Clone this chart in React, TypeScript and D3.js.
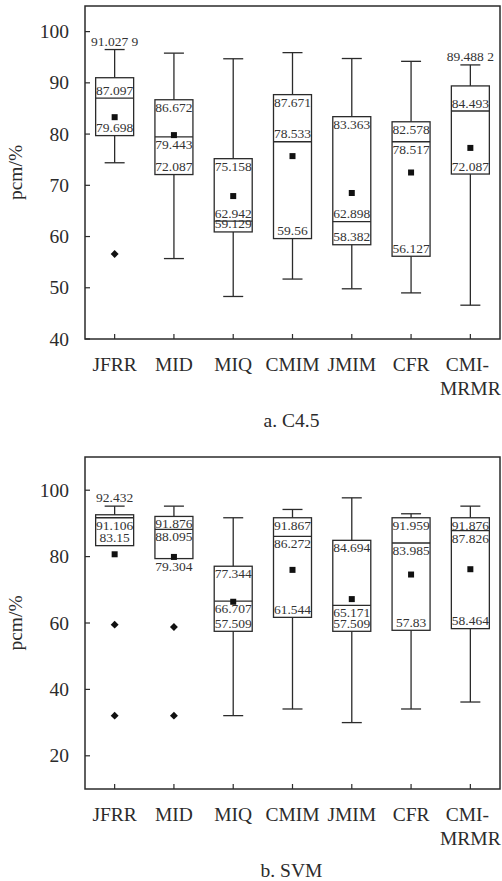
import React, { useEffect, useRef } from 'react';
import * as d3 from 'd3';

const categories = ['JFRR', 'MID', 'MIQ', 'CMIM', 'JMIM', 'CFR', 'CMI-MRMR'];

// a. C4.5
const c45WhiskerHigh = [96.5, 95.8, 94.7, 95.9, 94.75, 94.2, 93.5];
const c45Q3 = [91.0, 86.7, 75.2, 87.7, 83.4, 82.4, 89.4];
const c45Median = [87.0, 79.45, 63.0, 78.5, 62.9, 78.5, 84.5];
const c45Q1 = [79.7, 72.1, 60.9, 59.6, 58.4, 56.15, 72.2];
const c45WhiskerLow = [74.4, 55.7, 48.3, 51.7, 49.8, 49.0, 46.6];
const c45Mean = [83.3, 79.8, 67.9, 75.7, 68.5, 72.5, 77.3];
const c45Outliers = [[56.6], [], [], [], [], [], []];
const c45Q3Labels = ['91.027 9', '86.672', '75.158', '87.671', '83.363', '82.578', '89.488 2'];
const c45MedianLabels = ['87.097', '79.443', '62.942', '78.533', '62.898', '78.517', '84.493'];
const c45Q1Labels = ['79.698', '72.087', '59.129', '59.56', '58.382', '56.127', '72.087'];

// b. SVM
const svmWhiskerHigh = [95.2, 95.2, 91.7, 94.2, 97.7, 92.9, 95.2];
const svmQ3 = [92.6, 92.1, 77.1, 91.7, 84.9, 91.7, 91.7];
const svmMedian = [91.7, 88.2, 66.6, 86.1, 65.3, 84.1, 87.8];
const svmQ1 = [83.3, 79.4, 57.5, 61.7, 57.5, 57.8, 58.3];
const svmWhiskerLow = [83.3, 79.4, 32.1, 34.1, 30.0, 34.1, 36.2];
const svmMean = [80.7, 79.9, 66.4, 76.0, 67.2, 74.6, 76.2];
const svmOutliers = [[59.5, 32.1], [58.8, 32.1], [], [], [], [], []];
const svmQ3Labels = ['92.432', '91.876', '77.344', '91.867', '84.694', '91.959', '91.876'];
const svmMedianLabels = ['91.106', '88.095', '66.707', '86.272', '65.171', '83.985', '87.826'];
const svmQ1Labels = ['83.15', '79.304', '57.509', '61.544', '57.509', '57.83', '58.464'];

// where each value label sits relative to its line
type Place = 'above' | 'below' | 'whisker';
const c45Q3Place: Place[] = ['whisker', 'below', 'below', 'below', 'below', 'below', 'whisker'];
const c45MedianPlace: Place[] = ['above', 'below', 'above', 'above', 'above', 'below', 'above'];
const c45Q1Place: Place[] = ['above', 'above', 'above', 'above', 'above', 'above', 'above'];
const svmQ3Place: Place[] = ['whisker', 'below', 'below', 'below', 'below', 'below', 'below'];
const svmMedianPlace: Place[] = ['below', 'below', 'below', 'below', 'below', 'below', 'below'];
const svmQ1Place: Place[] = ['above', 'below', 'above', 'above', 'above', 'above', 'above'];

interface Panel {
    top: number;
    bottom: number;
    domain: [number, number];
    ticks: number[];
    caption: string;
    whiskerHigh: number[];
    q3: number[];
    median: number[];
    q1: number[];
    whiskerLow: number[];
    mean: number[];
    outliers: number[][];
    q3Labels: string[];
    medianLabels: string[];
    q1Labels: string[];
    q3Place: Place[];
    medianPlace: Place[];
    q1Place: Place[];
}

const panels: Panel[] = [
    {
        top: 6, bottom: 339, domain: [40, 105], ticks: [40, 50, 60, 70, 80, 90, 100], caption: 'a. C4.5',
        whiskerHigh: c45WhiskerHigh, q3: c45Q3, median: c45Median, q1: c45Q1, whiskerLow: c45WhiskerLow,
        mean: c45Mean, outliers: c45Outliers,
        q3Labels: c45Q3Labels, medianLabels: c45MedianLabels, q1Labels: c45Q1Labels,
        q3Place: c45Q3Place, medianPlace: c45MedianPlace, q1Place: c45Q1Place,
    },
    {
        top: 457, bottom: 789, domain: [10, 110], ticks: [20, 40, 60, 80, 100], caption: 'b. SVM',
        whiskerHigh: svmWhiskerHigh, q3: svmQ3, median: svmMedian, q1: svmQ1, whiskerLow: svmWhiskerLow,
        mean: svmMean, outliers: svmOutliers,
        q3Labels: svmQ3Labels, medianLabels: svmMedianLabels, q1Labels: svmQ1Labels,
        q3Place: svmQ3Place, medianPlace: svmMedianPlace, q1Place: svmQ1Place,
    },
];

const W = 502;
const H = 881;
const LEFT = 85;
const RIGHT = 500;
const INK = '#2b2b2b';
const FONT = '"Liberation Serif", "Times New Roman", serif';

const App: React.FC = () => {
    const svgRef = useRef<SVGSVGElement | null>(null);

    useEffect(() => {
        if (!svgRef.current) return;
        const svg = d3.select(svgRef.current);
        svg.selectAll('*').remove();

        const x = d3.scaleBand<string>().domain(categories).range([LEFT, RIGHT]).padding(0);
        const boxW = 38;
        const capW = 20;

        panels.forEach(p => {
            const y = d3.scaleLinear().domain(p.domain).range([p.bottom, p.top]);
            const g = svg.append('g');
            const cx = (i: number) => (x(categories[i]) as number) + x.bandwidth() / 2;

            // frame
            g.append('rect')
                .attr('x', LEFT).attr('y', p.top)
                .attr('width', RIGHT - LEFT).attr('height', p.bottom - p.top)
                .attr('fill', 'none').attr('stroke', INK).attr('stroke-width', 1.5);

            // y ticks (inward) + labels
            p.ticks.forEach(t => {
                g.append('line')
                    .attr('x1', LEFT).attr('x2', LEFT + 5)
                    .attr('y1', y(t)).attr('y2', y(t))
                    .attr('stroke', INK).attr('stroke-width', 1.2);
                g.append('text')
                    .attr('x', 69).attr('y', y(t))
                    .attr('dy', '0.34em')
                    .attr('text-anchor', 'end')
                    .attr('font-family', FONT).attr('font-size', 19.5)
                    .attr('fill', INK)
                    .text(t);
            });

            // y title
            g.append('text')
                .attr('transform', `translate(22,${(p.top + p.bottom) / 2}) rotate(-90)`)
                .attr('text-anchor', 'middle')
                .attr('font-family', FONT).attr('font-size', 19.5)
                .attr('fill', INK)
                .text('pcm/%');

            // x ticks + labels
            categories.forEach((c, i) => {
                g.append('line')
                    .attr('x1', cx(i)).attr('x2', cx(i))
                    .attr('y1', p.bottom).attr('y2', p.bottom - 5)
                    .attr('stroke', INK).attr('stroke-width', 1.2);
                const parts = c === 'CMI-MRMR' ? ['CMI-', 'MRMR'] : [c];
                parts.forEach((s, k) => {
                    g.append('text')
                        .attr('x', cx(i) + (k === 0 && parts.length > 1 ? -3 : 0))
                        .attr('y', p.bottom + 31.5 + k * 24.5)
                        .attr('text-anchor', 'middle')
                        .attr('font-family', FONT).attr('font-size', 19.5)
                        .attr('fill', INK)
                        .text(s);
                });
            });

            // caption
            g.append('text')
                .attr('x', (LEFT + RIGHT) / 2 - 1)
                .attr('y', p.bottom + 88)
                .attr('text-anchor', 'middle')
                .attr('font-family', FONT).attr('font-size', 19.5)
                .attr('fill', INK)
                .text(p.caption);

            // boxes
            categories.forEach((_, i) => {
                const c = cx(i);
                const line = (x1: number, y1: number, x2: number, y2: number) =>
                    g.append('line')
                        .attr('x1', x1).attr('y1', y1).attr('x2', x2).attr('y2', y2)
                        .attr('stroke', INK).attr('stroke-width', 1.3);

                // whiskers
                if (p.whiskerHigh[i] > p.q3[i]) {
                    line(c, y(p.whiskerHigh[i]), c, y(p.q3[i]));
                    line(c - capW / 2, y(p.whiskerHigh[i]), c + capW / 2, y(p.whiskerHigh[i]));
                }
                if (p.whiskerLow[i] < p.q1[i]) {
                    line(c, y(p.q1[i]), c, y(p.whiskerLow[i]));
                    line(c - capW / 2, y(p.whiskerLow[i]), c + capW / 2, y(p.whiskerLow[i]));
                }

                g.append('rect')
                    .attr('x', c - boxW / 2).attr('y', y(p.q3[i]))
                    .attr('width', boxW).attr('height', y(p.q1[i]) - y(p.q3[i]))
                    .attr('fill', 'none').attr('stroke', INK).attr('stroke-width', 1.3);
                line(c - boxW / 2, y(p.median[i]), c + boxW / 2, y(p.median[i]));

                // mean
                g.append('rect')
                    .attr('x', c - 3).attr('y', y(p.mean[i]) - 3)
                    .attr('width', 6).attr('height', 6)
                    .attr('fill', '#111');

                // outliers
                p.outliers[i].forEach(v => {
                    g.append('path')
                        .attr('d', d3.symbol().type(d3.symbolDiamond2).size(40)())
                        .attr('transform', `translate(${c},${y(v)})`)
                        .attr('fill', '#111');
                });

                // value labels
                const label = (txt: string, v: number, place: Place) => {
                    const base = place === 'whisker'
                        ? y(p.whiskerHigh[i]) - 4
                        : place === 'above' ? y(v) - 3.5 : y(v) + 12;
                    g.append('text')
                        .attr('x', c).attr('y', base)
                        .attr('text-anchor', 'middle')
                        .attr('font-family', FONT).attr('font-size', 13.5)
                        .attr('fill', '#333')
                        .text(txt);
                };
                label(p.q3Labels[i], p.q3[i], p.q3Place[i]);
                label(p.medianLabels[i], p.median[i], p.medianPlace[i]);
                label(p.q1Labels[i], p.q1[i], p.q1Place[i]);
            });
        });
    }, []);

    return (
        <svg
            ref={svgRef}
            width={W}
            height={H}
            style={{ position: 'absolute', left: 0, top: 0, background: '#fff' }}
        />
    );
};

export default App;
